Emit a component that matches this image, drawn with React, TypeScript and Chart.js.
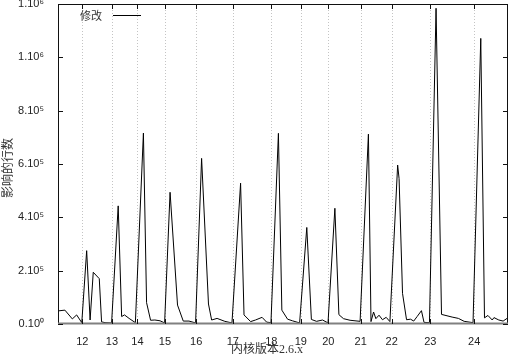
import React, { useEffect, useRef } from "react";
import { Chart, registerables } from "chart.js";

Chart.register(...registerables);

// Kernel versions (2.6.x) and their release positions, in weeks from the start of the x axis
const versions = ["12", "13", "14", "15", "16", "17", "18", "19", "20", "21", "22", "23", "24"];
const releaseWeeks = [8.5, 18.8, 27.7, 37.3, 48.2, 61.0, 74.4, 84.7, 94.3, 105.6, 116.4, 129.9, 145.2];

const yTickLabels = ["0.10⁰", "2.10⁵", "4.10⁵", "6.10⁵", "8.10⁵", "1.10⁶", "1.10⁶"];

// Series "修改": lines changed, sampled at these weeks
const weeks = [
  0, 2.4, 5.0, 6.5, 8.3, 10.0, 11.2, 12.3, 14.4, 15.2,
  16.4, 18.7, 21.0, 22.2, 23.2, 24.8, 27.0, 29.8, 30.9, 32.3,
  33.8, 35.6, 37.2, 39.1, 41.7, 43.7, 45.7, 48.0, 50.1, 52.5,
  53.6, 55.5, 58.2, 60.7, 63.7, 64.9, 67.2, 68.9, 71.2, 72.8,
  74.3, 76.9, 78.1, 80.1, 81.8, 84.3, 86.8, 88.4, 90.2, 92.3,
  94.2, 96.6, 98.0, 99.6, 101.9, 105.4, 108.3, 109.2, 110.1, 110.9,
  112.0, 113.2, 114.5, 115.8, 118.5, 119.0, 120.2, 121.6, 123.0, 124.1,
  125.3, 126.8, 127.7, 129.6, 131.9, 133.8, 137.5, 139.7, 141.7, 144.8,
  147.5, 148.8, 150.0, 151.5, 152.1, 153.8, 155.3, 156.8,
];
const rowsChanged = [
  49000, 52000, 19000, 34000, 5000, 275000, 15000, 194000, 170000, 8000,
  5000, 4000, 443000, 28000, 34000, 21000, 5000, 716000, 80000, 14000,
  15000, 12000, 4000, 494000, 71000, 11000, 11000, 4000, 621000, 75000,
  15000, 21000, 10000, 4000, 528000, 34000, 9000, 15000, 25000, 7000,
  5000, 715000, 52000, 18000, 12000, 4000, 362000, 17000, 10000, 15000,
  4000, 434000, 35000, 20000, 14000, 10000, 712000, 9000, 45000, 20000,
  33000, 16000, 25000, 9000, 596000, 545000, 115000, 16000, 18000, 11000,
  28000, 50000, 6000, 5000, 1184000, 36000, 26000, 21000, 10000, 5000,
  1071000, 23000, 32000, 15000, 24000, 15000, 11000, 22000,
];

const seriesLabel = "修改";
const xTitle = "内核版本2.6.x";
const yTitle = "影响的行数";

const tickFont = '"Liberation Sans", Arial, sans-serif';
const titleFont = '"Liberation Serif", "Noto Sans CJK SC", serif';

const framePlugin = {
  id: "gnuplotFrame",
  beforeDatasetsDraw(chart: any) {
    const { ctx, chartArea, scales } = chart;
    const { top, bottom } = chartArea;
    ctx.save();
    ctx.strokeStyle = "#c4c4c4";
    ctx.lineWidth = 1;
    ctx.setLineDash([1, 2]);
    releaseWeeks.forEach((w) => {
      const px = Math.round(scales.x.getPixelForValue(w)) + 0.5;
      ctx.beginPath();
      ctx.moveTo(px, top);
      ctx.lineTo(px, bottom);
      ctx.stroke();
    });
    ctx.restore();
  },
  afterDatasetsDraw(chart: any) {
    const { ctx, chartArea, scales } = chart;
    const { left, right, top, bottom } = chartArea;
    ctx.save();
    ctx.setLineDash([]);
    ctx.strokeStyle = "#111";
    ctx.lineWidth = 1;
    ctx.strokeRect(left + 0.5, top + 0.5, right - left - 1, bottom - top - 1);
    ctx.strokeStyle = "#808080";
    ctx.lineWidth = 2;
    ctx.beginPath();
    ctx.moveTo(left, bottom - 0.5);
    ctx.lineTo(right, bottom - 0.5);
    ctx.stroke();

    // inward tick marks
    ctx.strokeStyle = "#111";
    ctx.lineWidth = 1;
    const tl = 5;
    scales.y.ticks.forEach((t: any) => {
      const py = Math.round(scales.y.getPixelForValue(t.value)) + 0.5;
      ctx.beginPath();
      ctx.moveTo(left, py);
      ctx.lineTo(left + tl, py);
      ctx.moveTo(right, py);
      ctx.lineTo(right - tl, py);
      ctx.stroke();
    });
    releaseWeeks.forEach((w) => {
      const px = Math.round(scales.x.getPixelForValue(w)) + 0.5;
      ctx.beginPath();
      ctx.moveTo(px, bottom);
      ctx.lineTo(px, bottom - tl);
      ctx.moveTo(px, top);
      ctx.lineTo(px, top + tl);
      ctx.stroke();
    });

    // legend
    ctx.fillStyle = "#333";
    ctx.font = '11px "Noto Sans CJK SC", sans-serif';
    ctx.textAlign = "right";
    ctx.textBaseline = "middle";
    ctx.fillText(seriesLabel, 102, 16);
    ctx.strokeStyle = "#000";
    ctx.beginPath();
    ctx.moveTo(113, 15.5);
    ctx.lineTo(141, 15.5);
    ctx.stroke();

    // axis titles
    ctx.font = "12px " + titleFont;
    ctx.textAlign = "center";
    ctx.fillText(xTitle, 267, 350);
    ctx.translate(9, 168);
    ctx.rotate(-Math.PI / 2);
    ctx.fillText(yTitle, 0, 0);
    ctx.restore();
  },
};

function GnuplotChart() {
  const ref = useRef<HTMLCanvasElement>(null);
  useEffect(() => {
    if (!ref.current) return;
    const chart = new Chart(ref.current, {
      type: "line",
      data: {
        datasets: [
          {
            label: seriesLabel,
            data: weeks.map((w, i) => ({ x: w, y: rowsChanged[i] })),
            borderColor: "#000",
            borderWidth: 1,
            pointRadius: 0,
            fill: false,
            tension: 0,
          },
        ],
      },
      options: {
        responsive: false,
        animation: false,
        devicePixelRatio: 1,
        layout: { padding: { top: 4, right: 7, left: 0, bottom: 0 } },
        plugins: { legend: { display: false }, tooltip: { enabled: false } },
        scales: {
          x: {
            type: "linear",
            min: 0,
            max: 157,
            grid: { display: false },
            border: { display: false },
            afterBuildTicks: (s: any) => {
              s.ticks = releaseWeeks.map((v) => ({ value: v }));
            },
            ticks: {
              autoSkip: false,
              maxRotation: 0,
              minRotation: 0,
              padding: 3,
              color: "#222",
              font: { family: tickFont, size: 11 },
              callback: (_v: any, i: number) => versions[i],
            },
            afterFit: (s: any) => {
              s.height = 32;
              s.paddingLeft = 0;
              s.paddingRight = 0;
            },
          },
          y: {
            type: "linear",
            min: 0,
            max: 1200000,
            grid: { display: false },
            border: { display: false },
            ticks: {
              stepSize: 200000,
              padding: 6,
              color: "#222",
              font: { family: tickFont, size: 11 },
              callback: (_v: any, i: number) => yTickLabels[i],
            },
            afterFit: (s: any) => {
              s.width = 58;
              s.paddingTop = 0;
              s.paddingBottom = 0;
            },
          },
        },
      },
      plugins: [framePlugin],
    } as any);
    return () => chart.destroy();
  }, []);
  return <canvas ref={ref} width={515} height={356} />;
}

export default function App() {
  return (
    <div style={{ position: "absolute", left: 0, top: 0, width: 515, height: 356, background: "#fff" }}>
      <GnuplotChart />
    </div>
  );
}
